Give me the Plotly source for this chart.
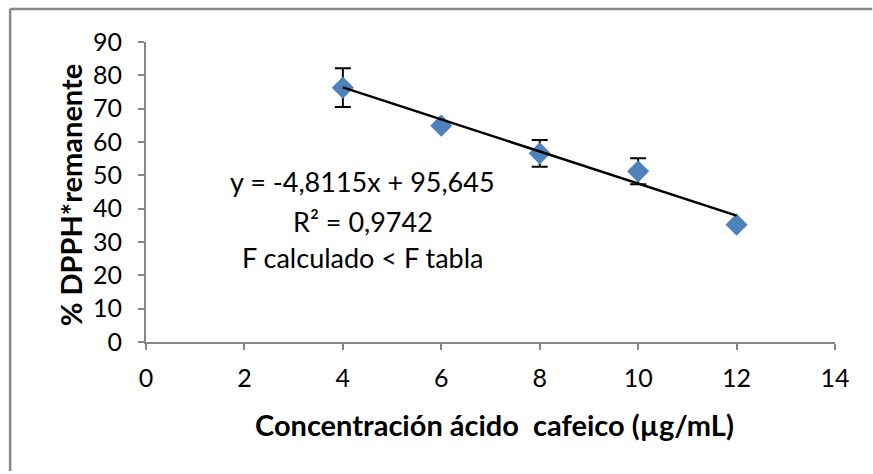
import plotly.graph_objects as go

# Caffeic acid concentration (µg/mL) vs. remaining DPPH radical (%)
concentracion = [4, 6, 8, 10, 12]
dpph_remanente = [76.3, 64.9, 56.6, 51.2, 35.2]
desviacion = [5.8, 0, 4.0, 3.9, 0]

# Linear fit reported on the chart
pendiente = -4.8115
intercepto = 95.645
r2 = 0.9742
x_fit = [min(concentracion), max(concentracion)]
y_fit = [pendiente * x + intercepto for x in x_fit]

x_ticks = [0, 2, 4, 6, 8, 10, 12, 14]
y_ticks = [0, 10, 20, 30, 40, 50, 60, 70, 80, 90]

FONT = "Lato"
AXIS_GRAY = "#878787"

fig = go.Figure()

fig.add_trace(go.Scatter(
    x=concentracion, y=dpph_remanente, mode="markers",
    marker=dict(symbol="diamond", size=17, color="#4F81BD"),
    error_y=dict(type="data", array=desviacion, visible=True,
                 color="black", thickness=2, width=8),
    showlegend=False, hoverinfo="x+y",
))

fig.add_trace(go.Scatter(
    x=x_fit, y=y_fit, mode="lines",
    line=dict(color="black", width=2.5),
    showlegend=False, hoverinfo="skip",
))

eq_texts = [
    "y = -4,8115x + 95,645",
    "R² = {:.4f}".format(r2).replace(".", ","),
    "F calculado < F tabla",
]
eq_y = [48.1, 36.1, 25.3]
annotations = []
for t, yy in zip(eq_texts, eq_y):
    annotations.append(dict(
        x=4.40, y=yy, xref="x", yref="y", text=t, showarrow=False,
        xanchor="center", yanchor="middle",
        font=dict(family=FONT, size=27, color="black"),
    ))

annotations.append(dict(
    x=0.5054, y=-0.2745, xref="paper", yref="paper",
    text="<b>Concentración ácido  cafeico (µg/mL)</b>", showarrow=False,
    xanchor="center", yanchor="middle",
    font=dict(family=FONT, size=29, color="black"),
))
annotations.append(dict(
    x=-0.1095, y=0.4875, xref="paper", yref="paper",
    text="<b>% DPPH*remanente</b>", showarrow=False, textangle=-90,
    xanchor="center", yanchor="middle",
    font=dict(family=FONT, size=29, color="black"),
))

# Outer chart frame: left and top edges running to the page edges
frame = dict(color=AXIS_GRAY, width=2.5)
shapes = [
    dict(type="line", xref="paper", yref="paper",
         x0=-0.1972, x1=-0.1972, y0=-0.43, y1=1.1098, line=frame),
    dict(type="line", xref="paper", yref="paper",
         x0=-0.1972, x1=1.054, y0=1.1098, y1=1.1098, line=frame),
]

fig.update_layout(
    width=873, height=474,
    margin=dict(l=145.5, r=38, t=42, b=131.5, pad=0),
    paper_bgcolor="white", plot_bgcolor="white",
    font=dict(family=FONT, size=25, color="black"),
    annotations=annotations,
    shapes=shapes,
)

fig.update_xaxes(
    range=[0, 14], tickvals=x_ticks, ticktext=[str(v) for v in x_ticks],
    showgrid=False, zeroline=False, showline=True,
    linecolor=AXIS_GRAY, linewidth=2,
    ticks="outside", ticklen=6, tickwidth=2, tickcolor=AXIS_GRAY,
    tickfont=dict(family=FONT, size=25, color="black"),
    ticklabelstandoff=7,
)
fig.update_yaxes(
    range=[0, 90], tickvals=y_ticks, ticktext=[str(v) for v in y_ticks],
    showgrid=False, zeroline=False, showline=True,
    linecolor=AXIS_GRAY, linewidth=2,
    ticks="outside", ticklen=6, tickwidth=2, tickcolor=AXIS_GRAY,
    tickfont=dict(family=FONT, size=25, color="black"),
    ticklabelstandoff=11,
)

fig.write_html("out.html")
